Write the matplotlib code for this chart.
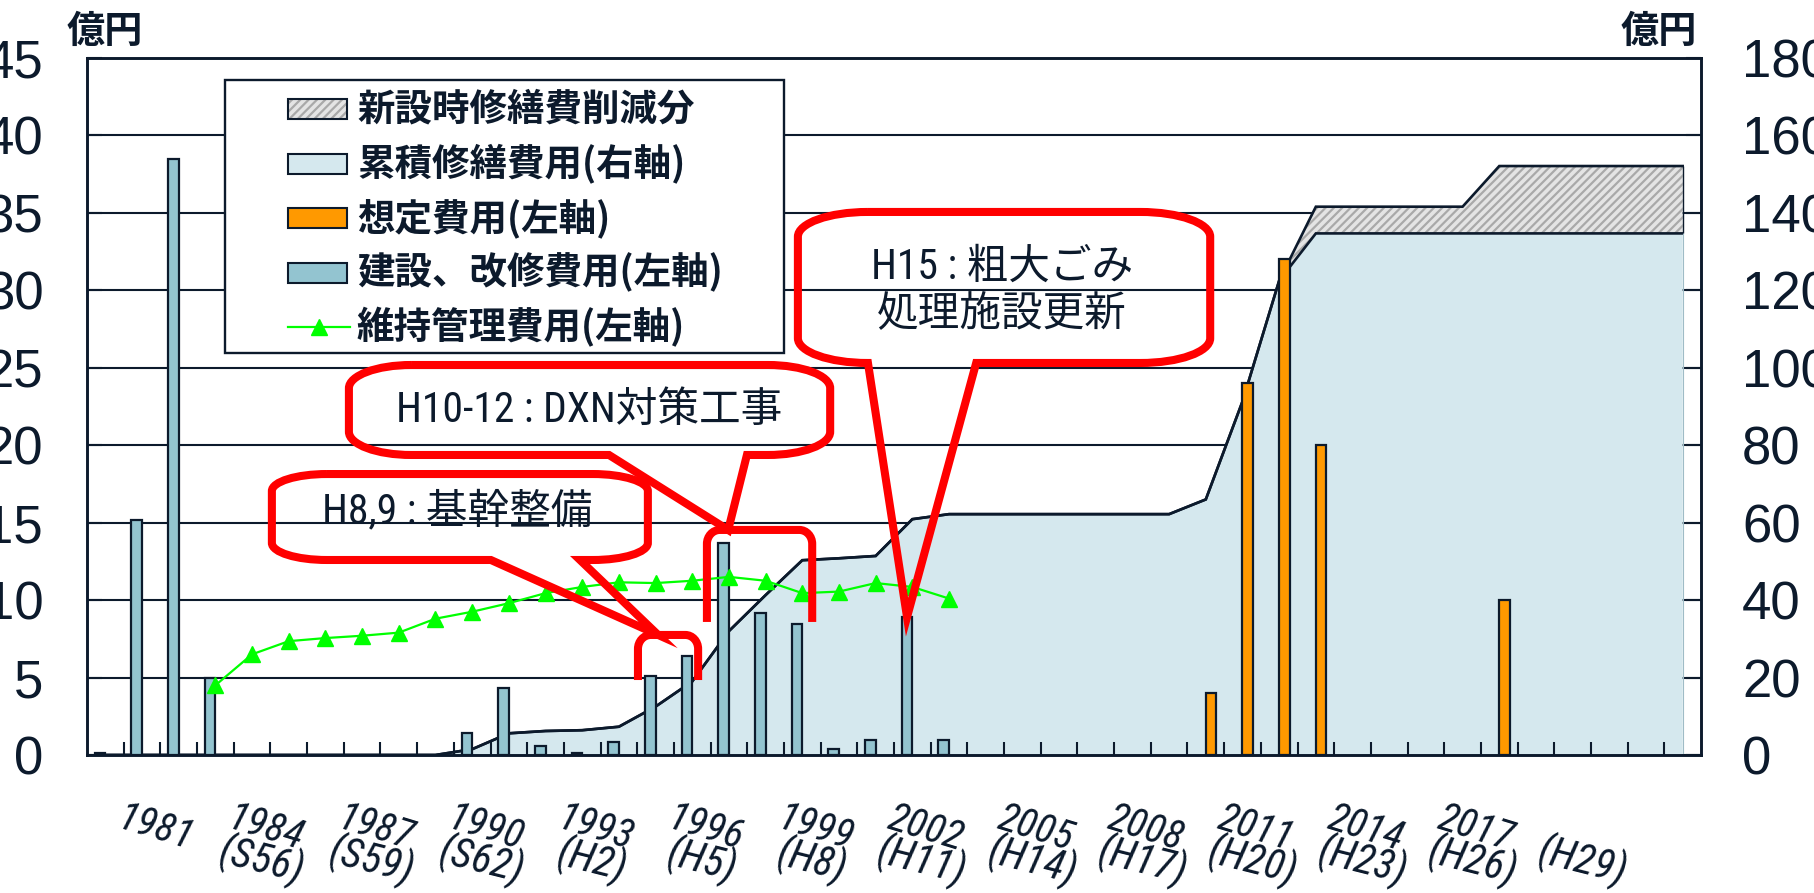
import numpy as np
import matplotlib
matplotlib.use("Agg")
import matplotlib.pyplot as plt
from matplotlib import font_manager
from matplotlib.patches import Rectangle, PathPatch
from matplotlib.path import Path
from matplotlib.lines import Line2D

########################################
#########   data
########################################

years = list(range(1981, 2025))

# 建設、改修費用 (left axis, 億円)
construction = [0.15, 15.2, 38.5, 5.0, 0, 0, 0, 0, 0, 0,
                1.4, 4.3, 0.55, 0.1, 0.85, 5.1, 6.4, 13.7, 9.15, 8.45,
                0.4, 1.0, 8.9, 1.0, 0, 0, 0, 0, 0, 0,
                0, 0, 0, 0, 0, 0, 0, 0, 0, 0,
                0, 0, 0, 0]

# 想定費用 (left axis)
planned = [0, 0, 0, 0, 0, 0, 0, 0, 0, 0,
           0, 0, 0, 0, 0, 0, 0, 0, 0, 0,
           0, 0, 0, 0, 0, 0, 0, 0, 0, 0,
           4.0, 24.0, 32.0, 20.0, 0, 0, 0, 0, 10.0, 0,
           0, 0, 0, 0]

# 維持管理費用 (left axis)
nan = np.nan
maintenance = [nan, nan, nan, 4.5, 6.5, 7.35, 7.55, 7.7, 7.9, 8.8,
               9.25, 9.8, 10.45, 10.85, 11.15, 11.1, 11.25, 11.5, 11.25, 10.45,
               10.55, 11.1, 10.85, 10.1, nan, nan, nan, nan, nan, nan,
               nan, nan, nan, nan, nan, nan, nan, nan, nan, nan,
               nan, nan, nan, nan]

# 累積修繕費用 (right axis)
cum_repair = [0, 0, 0, 0, 0, 0, 0, 0, 0, 0,
              1.5, 5.6, 6.2, 6.4, 7.3, 12.5, 19.0, 32.0, 41.3, 50.3,
              50.8, 51.4, 60.9, 62.2, 62.2, 62.2, 62.2, 62.2, 62.2, 62.2,
              66.0, 91.3, 122.5, 134.7, 134.7, 134.7, 134.7, 134.7, 134.7, 134.7,
              134.7, 134.7, 134.7, 134.7]

# cumulative cost without the reduction for new facilities (top of hatched band)
cum_full = [0, 0, 0, 0, 0, 0, 0, 0, 0, 0,
            1.5, 5.6, 6.2, 6.4, 7.3, 12.5, 19.0, 32.0, 41.3, 50.3,
            50.8, 51.4, 60.9, 62.2, 62.2, 62.2, 62.2, 62.2, 62.2, 62.2,
            66.0, 91.3, 122.5, 141.6, 141.6, 141.6, 141.6, 141.6, 152.1, 152.1,
            152.1, 152.1, 152.1, 152.1]

label_years = [1981, 1984, 1987, 1990, 1993, 1996, 1999, 2002, 2005, 2008, 2011, 2014, 2017]
label_eras = ["S56", "S59", "S62", "H2", "H5", "H8", "H11", "H14", "H17", "H20", "H23", "H26", "H29"]

legend_labels = ["新設時修繕費削減分", "累積修繕費用(右軸)", "想定費用(左軸)",
                 "建設、改修費用(左軸)", "維持管理費用(左軸)"]

########################################
#########   style
########################################

NAVY = "#0c1a2c"
BAR_BLUE = "#93c4d0"
AREA_BLUE = "#d5e8ee"
ORANGE = "#ff9900"
GREEN = "#00ff00"
RED = "#ff0000"
HATCH_BG = "#e4e4e4"
HATCH_FG = "#a9a9a9"

JP = "Noto Sans CJK JP"


def find_narrow():
    # a condensed sans for the year labels, if one is installed
    for name, stretch in [("Liberation Sans Narrow", "normal"),
                          ("Roboto Condensed", "normal"),
                          ("DejaVu Sans", "condensed")]:
        try:
            fp = font_manager.FontProperties(family=name, stretch=stretch, style="italic")
            path = font_manager.findfont(fp, fallback_to_default=False)
        except Exception:
            continue
        if stretch == "normal" or "ondensed" in path:
            return name, stretch
    return "Liberation Sans", "normal"


NARROW, NARROW_STRETCH = find_narrow()
condensed = NARROW != "Liberation Sans"

plt.rcParams["font.family"] = ["Liberation Sans", JP, "DejaVu Sans"]
plt.rcParams["hatch.color"] = HATCH_FG
plt.rcParams["hatch.linewidth"] = 1.6

x = np.arange(len(years))
construction = np.array(construction)
planned = np.array(planned)
maintenance = np.array(maintenance)
cum_repair = np.array(cum_repair)
cum_full = np.array(cum_full)

fig = plt.figure(figsize=(18.14, 8.93), dpi=100)
ax = fig.add_axes([0.04796, 0.15454, 0.88975, 0.78051])
ax2 = ax.twinx()
ax.set_zorder(2)
ax2.set_zorder(1)
ax.patch.set_visible(False)

# cumulative repair cost (right axis) drawn underneath
ax2.fill_between(x, 0, cum_repair, facecolor=AREA_BLUE, linewidth=0, zorder=1)
ax2.fill_between(x, cum_repair, cum_full, facecolor=HATCH_BG, edgecolor=HATCH_FG,
                 hatch="////", linewidth=0, zorder=1)
ax2.plot(x, cum_repair, color=NAVY, lw=1.9, zorder=2, solid_joinstyle="miter")
ax2.plot(x, cum_full, color=NAVY, lw=1.9, zorder=2, solid_joinstyle="miter")
ax2.vlines(x[-1], cum_repair[-1], cum_full[-1], color=NAVY, lw=1.0, zorder=2)
ax2.vlines(x[-1], 0, cum_repair[-1], color="#9fbcc6", lw=0.8, zorder=2)

# bars (left axis), clustered: construction left, planned right
bw = 0.29
m = construction > 0
ax.bar(x[m] - bw / 2, construction[m], width=bw, color=BAR_BLUE, edgecolor=NAVY,
       linewidth=1.6, zorder=3)
m = planned > 0
ax.bar(x[m] + bw / 2, planned[m], width=bw, color=ORANGE, edgecolor=NAVY,
       linewidth=1.6, zorder=3)

ax.plot(x, maintenance, color=GREEN, lw=1.6, marker="^", ms=12, mec=GREEN, mfc=GREEN, zorder=4)

# axes
ax.set_xlim(-0.5, len(years) - 0.5)
ax.set_ylim(0, 45)
ax2.set_ylim(0, 180)
ax.set_xticks(np.arange(0.5, len(years) - 1, 1))
ax.set_yticks(np.arange(0, 46, 5))
ax2.set_yticks(np.arange(0, 181, 20))
ax.tick_params(axis="x", direction="in", length=9.5, width=1.5, color=NAVY, labelbottom=False)
ax.tick_params(axis="y", direction="in", length=11, width=1.5, colors=NAVY, labelsize=38, pad=31.5)
ax2.tick_params(axis="y", direction="in", length=11, width=1.5, colors=NAVY, labelsize=38, pad=29.5)
ax2.grid(axis="y", color=NAVY, lw=1.5)
ax2.set_axisbelow(True)
for s in ax.spines.values():
    s.set_color(NAVY)
    s.set_linewidth(2.1)
for s in ax2.spines.values():
    s.set_visible(False)

ax.text(-0.0124, 1.038, "億円", transform=ax.transAxes, ha="left", va="center",
        fontsize=27.5, fontweight="bold", family=JP, color=NAVY)
ax.text(0.9975, 1.038, "億円", transform=ax.transAxes, ha="right", va="center",
        fontsize=27.5, fontweight="bold", family=JP, color=NAVY)

# year / era labels under the axis
year_size = 29 if condensed else 25
for yr, era in zip(label_years, label_eras):
    k = years.index(yr)
    ax.annotate(str(yr), xy=(k, 0), xycoords=ax.get_xaxis_transform(),
                xytext=(36, -53), textcoords="offset points", ha="center", va="center",
                rotation=-17, rotation_mode="anchor", fontsize=year_size, fontstyle="italic",
                family=NARROW, fontstretch=NARROW_STRETCH, color=NAVY)
    ax.annotate("(" + era + ")", xy=(k, 0), xycoords=ax.get_xaxis_transform(),
                xytext=(113, -76), textcoords="offset points", ha="center", va="center",
                rotation=-14, rotation_mode="anchor", fontsize=30, fontstyle="italic",
                family=NARROW, fontstretch=NARROW_STRETCH, color=NAVY)

########################################
#########   legend box
########################################

def axfrac(px, py):
    # position inside the axes in fractions of its width and height
    return (px - 87) / 1614, (755 - py) / 697


lx0, ly0 = axfrac(225, 353)
lx1, ly1 = axfrac(784, 80)
ax.add_patch(Rectangle((lx0, ly0), lx1 - lx0, ly1 - ly0, transform=ax.transAxes,
                       facecolor="white", edgecolor=NAVY, lw=1.7, zorder=6))
handle_styles = [dict(facecolor=HATCH_BG, edgecolor=HATCH_FG, hatch="////"),
                 dict(facecolor=AREA_BLUE),
                 dict(facecolor=ORANGE),
                 dict(facecolor=BAR_BLUE),
                 None]
for i, (lab, st) in enumerate(zip(legend_labels, handle_styles)):
    cy = 109 + 54.6 * i
    hx0, hy0 = axfrac(288, cy + 10)
    hx1, hy1 = axfrac(347, cy - 10)
    if st is not None:
        ax.add_patch(Rectangle((hx0, hy0), hx1 - hx0, hy1 - hy0, transform=ax.transAxes,
                               linewidth=0, zorder=7, **st))
        ax.add_patch(Rectangle((hx0, hy0), hx1 - hx0, hy1 - hy0, transform=ax.transAxes,
                               facecolor="none", edgecolor=NAVY, lw=1.5, zorder=7))
    else:
        _, yc = axfrac(0, cy)
        hx_end = axfrac(350, 0)[0]
        ax.add_line(Line2D([hx0, hx_end], [yc, yc], transform=ax.transAxes,
                           color=GREEN, lw=1.6, zorder=7))
        ax.add_line(Line2D([(hx0 + hx_end) / 2], [yc], transform=ax.transAxes,
                           marker="^", ms=12, color=GREEN, zorder=7))
    tx, ty = axfrac(357, cy)
    ax.text(tx, ty, lab, transform=ax.transAxes, ha="left", va="center", fontsize=27,
            fontweight="bold", family=JP, color=NAVY, zorder=8)

########################################
#########   callouts
########################################

C = 0.5523


def bubble(x0, x1, y0, y1, rx, ry, bx0, bx1, tip):
    v = [(x0 + rx, y1), (x1 - rx, y1),
         (x1 - rx + C * rx, y1), (x1, y1 - ry + C * ry), (x1, y1 - ry),
         (x1, y0 + ry),
         (x1, y0 + ry - C * ry), (x1 - rx + C * rx, y0), (x1 - rx, y0),
         (bx1, y0), tip, (bx0, y0), (x0 + rx, y0),
         (x0 + rx - C * rx, y0), (x0, y0 + ry - C * ry), (x0, y0 + ry),
         (x0, y1 - ry),
         (x0, y1 - ry + C * ry), (x0 + rx - C * rx, y1), (x0 + rx, y1)]
    c = [Path.MOVETO, Path.LINETO,
         Path.CURVE4, Path.CURVE4, Path.CURVE4,
         Path.LINETO,
         Path.CURVE4, Path.CURVE4, Path.CURVE4,
         Path.LINETO, Path.LINETO, Path.LINETO, Path.LINETO,
         Path.CURVE4, Path.CURVE4, Path.CURVE4,
         Path.LINETO,
         Path.CURVE4, Path.CURVE4, Path.CURVE4]
    ax.add_patch(PathPatch(Path(v, c), facecolor="none", edgecolor=RED, lw=5.8,
                           joinstyle="miter", zorder=9, clip_on=False))


def bracket(x0, x1, ybot, ytop, rx=0.35, ry=0.9):
    v = [(x0, ybot), (x0, ytop - ry),
         (x0, ytop - ry + C * ry), (x0 + rx - C * rx, ytop), (x0 + rx, ytop),
         (x1 - rx, ytop),
         (x1 - rx + C * rx, ytop), (x1, ytop - ry + C * ry), (x1, ytop - ry),
         (x1, ybot)]
    c = [Path.MOVETO, Path.LINETO,
         Path.CURVE4, Path.CURVE4, Path.CURVE4,
         Path.LINETO,
         Path.CURVE4, Path.CURVE4, Path.CURVE4,
         Path.LINETO]
    ax.add_patch(PathPatch(Path(v, c), facecolor="none", edgecolor=RED, lw=5.8,
                           capstyle="butt", zorder=9, clip_on=False))


k_h8 = years.index(1996)
k_h10 = years.index(1998)
k_h15 = years.index(2003)

bracket(k_h8 - 0.48, k_h8 + 1.16, 4.84, 7.75)
bracket(k_h10 - 0.60, k_h10 + 2.27, 8.59, 14.53)

bubble(4.54, 14.79, 12.59, 18.14, 1.5, 1.1, 10.51, 12.94, (k_h8 + 0.07, 7.75))
bubble(6.64, 19.76, 19.37, 25.18, 1.7, 1.5, 13.73, 17.49, (k_h10 - 0.02, 14.53))
bubble(18.88, 30.12, 25.31, 35.06, 1.9, 1.6, 20.79, 23.74,
       (k_h15 - bw / 2, construction[k_h15]))

callout_font = [NARROW, JP] if condensed else ["Liberation Sans", JP]
ax.text(9.59, 15.69, "H8,9 : 基幹整備", ha="center", va="center", fontsize=30,
        family=callout_font, color=NAVY, zorder=10)
ax.text(13.19, 22.27, "H10-12 : DXN対策工事", ha="center", va="center", fontsize=30,
        family=callout_font, color=NAVY, zorder=10)
ax.text(24.45, 29.99, "H15 : 粗大ごみ\n処理施設更新", ha="center", va="center", fontsize=30,
        family=callout_font, color=NAVY, linespacing=1.18, zorder=10)

fig.savefig("out.png", dpi=100)
